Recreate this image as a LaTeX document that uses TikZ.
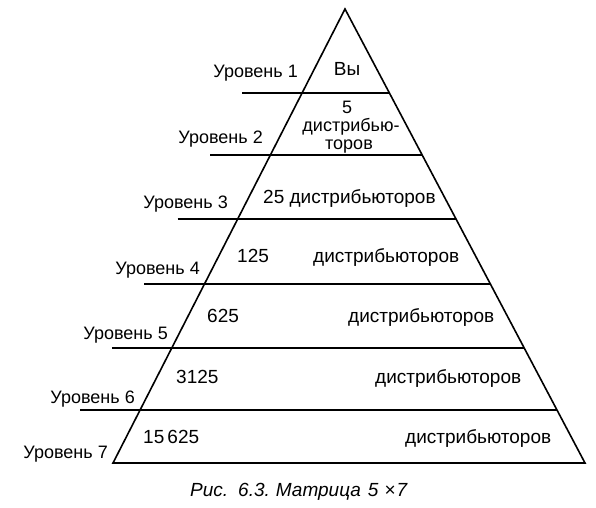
\documentclass[tikz,border=0pt]{standalone}
\usepackage{fontspec}
\setmainfont{Liberation Sans}
\usetikzlibrary{calc}

\begin{document}
\begin{tikzpicture}[
  x=1pt, y=-1pt,
  font=\fontsize{19}{19}\selectfont,
  bordo/.style={draw=black, line width=1.6pt},
  livello/.style={draw=black, line width=1.8pt},
  etichetta/.style={inner sep=0pt, anchor=base east, font=\fontsize{18}{18}\selectfont},
  testo/.style={inner sep=0pt, anchor=base west},
  centrato/.style={inner sep=0pt, anchor=base},
  stretto/.style={inner sep=0pt, anchor=base, font=\fontsize{18}{18}\selectfont},
  didascalia/.style={inner sep=0pt, anchor=base west, font=\fontsize{19}{19}\selectfont\itshape}
]
\useasboundingbox (0,0) rectangle (596,507);

%--------------------------------------------------------------
% Piramide
%--------------------------------------------------------------
\coordinate (vertice) at (345,9);
\coordinate (bs) at (113,463);
\coordinate (bd) at (585,463);
\draw[bordo] (vertice) -- (bd) -- (bs) -- cycle;

%--------------------------------------------------------------
% Linee dei livelli (sporgono a sinistra del lato)
%--------------------------------------------------------------
\foreach \y [count=\n] in {93,155,219,284,348,410}{
  \pgfmathsetmacro\t{(\y-9)/454}
  \coordinate (s\n) at ($(vertice)!\t!(bs)$);
  \coordinate (d\n) at ($(vertice)!\t!(bd)$);
  \draw[livello] ($(s\n)+(-60,0)$) -- (d\n);
}

%--------------------------------------------------------------
% Etichette dei livelli
%--------------------------------------------------------------
\foreach \n/\x/\y in {1/298/77, 2/263/143, 3/228/208, 4/200/274,
                      5/168/339, 6/135/403, 7/108/458}
  \node[etichetta] (uroven\n) at (\x,\y) {Уровень \n};

%--------------------------------------------------------------
% Contenuto dei livelli
%--------------------------------------------------------------
\node[centrato] (vy) at (347,75) {Вы};
\node[stretto] (n2) at (347,113) {5};
\node[stretto] (t2a) at (351,131) {дистрибью-};
\node[stretto] (t2b) at (349,149) {торов};
\node[testo] (n3) at (263,203) {25 дистрибьюторов};
\node[testo] (n4) at (237,262) {125};
\node[testo] (t4) at (313,262) {дистрибьюторов};
\node[testo] (n5) at (207,322) {625};
\node[testo] (t5) at (348,322) {дистрибьюторов};
\node[testo] (n6) at (176,383) {3125};
\node[testo] (t6) at (375,383) {дистрибьюторов};
\node[testo] (n7) at (143,443) {15\,625};
\node[testo] (t7) at (405,443) {дистрибьюторов};

%--------------------------------------------------------------
% Didascalia
%--------------------------------------------------------------
\node[didascalia] (fig) at (190,496)
  {Рис.\hspace{10pt}6.3.\hspace{6pt}Матрица\hspace{7pt}5\hspace{6pt}×\hspace{1pt}7};

\end{tikzpicture}
\end{document}
